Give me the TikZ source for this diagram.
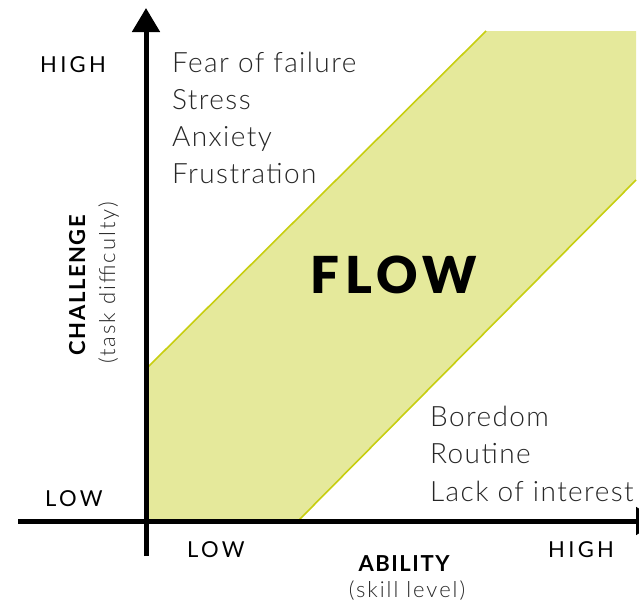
\documentclass[tikz,border=0pt]{standalone}
\usepackage{fontspec}
\setmainfont{Lato}
\newfontfamily\lightfont{Lato Light}[LetterSpace=5]
\newfontfamily\sublightfont{Lato Light}[LetterSpace=9]
\newfontfamily\capsfont{Lato}[LetterSpace=15]
\newfontfamily\boldcapsfont{Lato}[LetterSpace=7]
\newfontfamily\flowfont{Lato Black}[LetterSpace=11]
\usetikzlibrary{arrows.meta}
\definecolor{bandfill}{RGB}{229,233,155}
\definecolor{bandline}{RGB}{199,206,16}
\begin{document}
\begin{tikzpicture}[x=1pt,y=-1pt,
  axis/.style={line width=5pt,black},
  tip/.style={-{Triangle[length=24pt,width=27pt]}},
  lbl/.style={inner sep=0pt,anchor=base west,font=\capsfont\fontsize{22}{22}\selectfont},
  state/.style={inner sep=0pt,anchor=base west,font=\lightfont\fontsize{28}{28}\selectfont,text=black!85},
  axtitle/.style={inner sep=0pt,anchor=base,font=\boldcapsfont\bfseries\fontsize{22}{22}\selectfont},
  axsub/.style={inner sep=0pt,anchor=base,font=\sublightfont\fontsize{22}{22}\selectfont,text=black!85}]
\useasboundingbox (0,0) rectangle (639,603);
\clip (0,0) rectangle (639,603);
% band
\coordinate (b1) at (146,521);
\coordinate (b2) at (146,369);
\coordinate (b3) at (486,31);
\coordinate (b4) at (636,31);
\coordinate (b5) at (636,180);
\coordinate (b6) at (298,521);
\fill[bandfill] (b1) -- (b2) -- (b3) -- (b4) -- (b5) -- (b6) -- cycle;
\draw[bandline,line width=1.6pt] (b2) -- (b3);
\draw[bandline,line width=1.6pt] (b5) -- (b6);
% axes
\coordinate (yb) at (146,556);
\coordinate (yt) at (146,8);
\coordinate (xl) at (18,521);
\coordinate (xr) at (660,521);
\draw[axis,tip] (yb) -- (yt);
\draw[axis,tip] (xl) -- (xr);
% labels
\node[lbl] (hy) at (40,72) {HIGH};
\node[lbl] (ly) at (45,506) {LOW};
\node[lbl] (lx) at (187,557) {LOW};
\node[lbl] (hx) at (548,557) {HIGH};
\node[state] (s1) at (172,72) {Fear of failure};
\node[state] (s2) at (172,109) {Stress};
\node[state] (s3) at (172,146) {Anxiety};
\node[state] (s4) at (172,183) {Frustration};
\node[state] (s5) at (430,426) {Boredom};
\node[state] (s6) at (430,463) {Routine};
\node[state] (s7) at (430,501) {Lack of interest};
\node[inner sep=0pt,anchor=base,font=\flowfont\fontsize{51}{51}\selectfont] (flow) at (394,293) {FLOW};
\node[axtitle,rotate=90] (ch) at (85,285) {CHALLENGE};
\node[axsub,rotate=90] (td) at (115,283) {(task difficulty)};
\node[axtitle] (ab) at (404,571) {ABILITY};
\node[axsub] (sl) at (407,597) {(skill level)};
\end{tikzpicture}
\end{document}
